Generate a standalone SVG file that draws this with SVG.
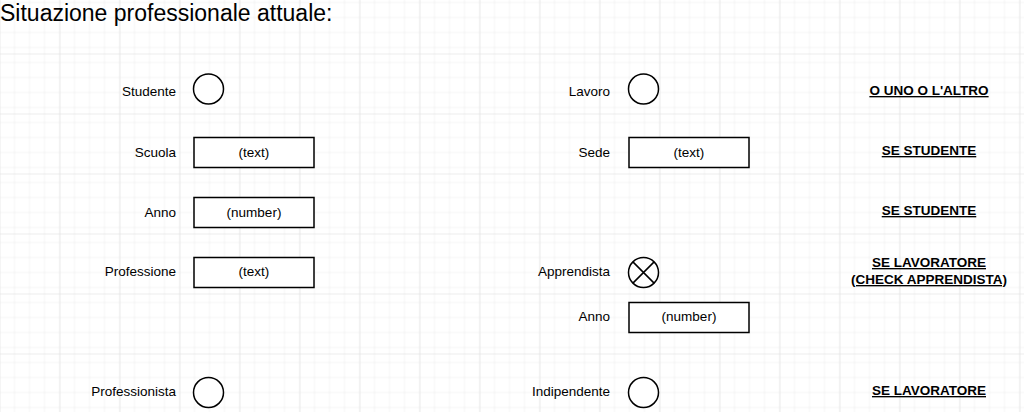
<svg xmlns="http://www.w3.org/2000/svg" width="1024" height="412" viewBox="0 0 1024 412">
<style>
.lbl{font-family:"Liberation Sans",Arial,sans-serif;font-size:13.5px;fill:#000;}
.l{text-anchor:end;}
.c{text-anchor:middle;}
.note{font-family:"Liberation Sans",Arial,sans-serif;font-size:13.5px;font-weight:bold;fill:#000;text-anchor:middle;text-decoration:underline;}
.title{font-family:"Liberation Sans",Arial,sans-serif;font-size:23px;fill:#000;}
.circ{fill:#fff;stroke:#000;stroke-width:1.5;}
.box{fill:#fff;stroke:#000;stroke-width:1.5;}
</style>
<defs>
<pattern id="minor" width="15" height="15" patternUnits="userSpaceOnUse" x="-0.5" y="-6.5">
<path d="M15 0H0V15" fill="none" stroke="#ececec" stroke-width="1"/>
</pattern>
<pattern id="major" width="60" height="60" patternUnits="userSpaceOnUse" x="-0.5" y="-6.5">
<rect width="60" height="60" fill="url(#minor)"/>
<path d="M60 0H0V60" fill="none" stroke="#dcdcdc" stroke-width="1"/>
</pattern>
</defs>
<rect width="1024" height="412" fill="#fff"/>
<rect width="1024" height="412" fill="url(#major)"/>
<text class="title" x="0" y="21">Situazione professionale attuale:</text>
<g id="connectors"></g>
<g id="studente"><text class="lbl l" x="176" y="96">Studente</text><circle class="circ" cx="208.5" cy="89" r="15"/></g>
<g id="scuola"><text class="lbl l" x="176" y="157">Scuola</text><rect class="box" x="194" y="137.5" width="120" height="30"/><text class="lbl c" x="254" y="157">(text)</text></g>
<g id="anno1"><text class="lbl l" x="176" y="217">Anno</text><rect class="box" x="194" y="197.5" width="120" height="30"/><text class="lbl c" x="254" y="217">(number)</text></g>
<g id="professione"><text class="lbl l" x="176" y="276">Professione</text><rect class="box" x="194" y="257.5" width="120" height="30"/><text class="lbl c" x="254" y="276">(text)</text></g>
<g id="professionista"><text class="lbl l" x="176" y="396">Professionista</text><circle class="circ" cx="208.5" cy="392.5" r="15"/></g>
<g id="lavoro"><text class="lbl l" x="610" y="96">Lavoro</text><circle class="circ" cx="643.5" cy="89" r="15"/></g>
<g id="sede"><text class="lbl l" x="610" y="157">Sede</text><rect class="box" x="629" y="137.5" width="120" height="30"/><text class="lbl c" x="689" y="157">(text)</text></g>
<g id="apprendista"><text class="lbl l" x="610" y="276">Apprendista</text><circle class="circ" cx="643.5" cy="272.5" r="15"/><path d="M632.9 261.9L654.1 283.1M654.1 261.9L632.9 283.1" stroke="#000" stroke-width="1.5"/></g>
<g id="anno2"><text class="lbl l" x="610" y="321">Anno</text><rect class="box" x="629" y="302.5" width="120" height="30"/><text class="lbl c" x="689" y="321">(number)</text></g>
<g id="indipendente"><text class="lbl l" x="610" y="396">Indipendente</text><circle class="circ" cx="643.5" cy="392.5" r="15"/></g>
<g id="notes">
<text class="note" x="929" y="95">O UNO O L'ALTRO</text>
<text class="note" x="929" y="155">SE STUDENTE</text>
<text class="note" x="929" y="215">SE STUDENTE</text>
<text class="note" x="929" y="267">SE LAVORATORE</text>
<text class="note" x="929" y="284">(CHECK APPRENDISTA)</text>
<text class="note" x="929" y="395">SE LAVORATORE</text>
</g>
</svg>
